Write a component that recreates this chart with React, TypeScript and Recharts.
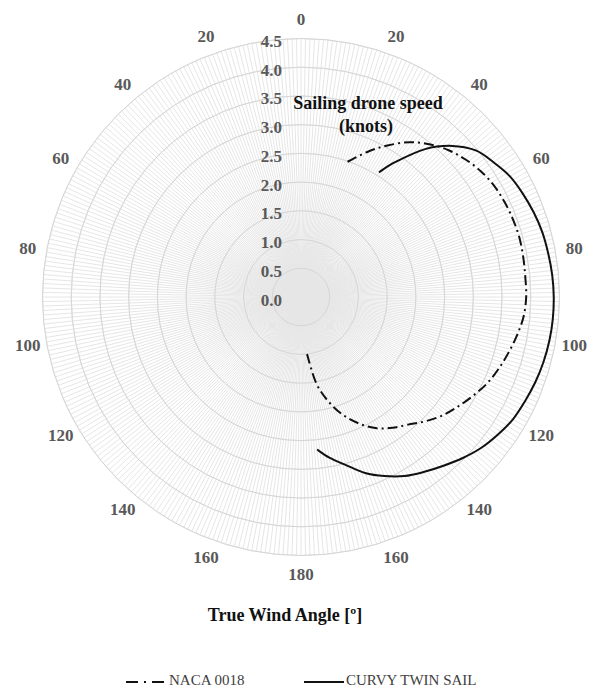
import React from 'react';
import { RadarChart, PolarGrid, PolarAngleAxis, PolarRadiusAxis, Radar, Legend } from 'recharts';

// chart geometry (page pixels)
const WIDTH = 592;
const HEIGHT = 691;
const CX = 301;
const CY = 297;
const OUTER = 258.5;

// one spoke per degree, labelled 0..180 down the right side and back up the left
const SPOKES = 360;
const ANGLE_LABELS = [0, 20, 40, 60, 80, 100, 120, 140, 160, 180];
const SPEED_TICKS = [0, 0.5, 1, 1.5, 2, 2.5, 3, 3.5, 4, 4.5];

// NACA 0018 polar: true wind angle [deg] -> boat speed [knots]
const NACA_ANGLES = [19, 25, 30, 35, 40, 45, 50, 55, 60, 65, 70, 75, 80, 85, 90, 95, 100, 105, 110, 115, 120, 125, 130, 135, 140, 145, 150, 155, 160, 165, 170, 174];
const NACA_SPEED = [2.49, 2.8, 3.05, 3.29, 3.47, 3.62, 3.73, 3.82, 3.88, 3.91, 3.93, 3.94, 3.93, 3.92, 3.92, 3.89, 3.82, 3.74, 3.66, 3.57, 3.45, 3.33, 3.21, 3.06, 2.9, 2.78, 2.64, 2.44, 2.2, 1.9, 1.52, 1.0];

// Curvy twin sail polar
const CURVY_ANGLES = [32, 35, 40, 45, 50, 55, 60, 65, 70, 75, 80, 85, 90, 95, 100, 105, 110, 115, 120, 125, 130, 135, 140, 145, 150, 155, 160, 165, 170, 174];
const CURVY_SPEED = [2.56, 2.87, 3.36, 3.72, 3.97, 4.09, 4.2, 4.26, 4.31, 4.35, 4.37, 4.39, 4.4, 4.4, 4.39, 4.37, 4.34, 4.3, 4.26, 4.18, 4.09, 3.97, 3.84, 3.72, 3.6, 3.44, 3.26, 3.03, 2.84, 2.67];

const data = Array.from({ length: SPOKES }, (_, spoke) => {
  const ni = NACA_ANGLES.indexOf(spoke);
  const ci = CURVY_ANGLES.indexOf(spoke);
  return {
    spoke,
    naca: ni >= 0 ? NACA_SPEED[ni] : undefined,
    curvy: ci >= 0 ? CURVY_SPEED[ci] : undefined,
  };
});

const SERIF = '"Liberation Serif", "Times New Roman", serif';

type Pt = { x: number; y: number; value?: number };

// Catmull-Rom through the points, left open (the polar curves don't close)
const smoothPath = (pts: Pt[]) => {
  if (pts.length < 2) return '';
  let d = `M${pts[0].x},${pts[0].y}`;
  for (let i = 0; i < pts.length - 1; i++) {
    const p0 = pts[i - 1] || pts[i];
    const p1 = pts[i];
    const p2 = pts[i + 1];
    const p3 = pts[i + 2] || p2;
    const c1x = p1.x + (p2.x - p0.x) / 6;
    const c1y = p1.y + (p2.y - p0.y) / 6;
    const c2x = p2.x - (p3.x - p1.x) / 6;
    const c2y = p2.y - (p3.y - p1.y) / 6;
    d += ` C${c1x},${c1y} ${c2x},${c2y} ${p2.x},${p2.y}`;
  }
  return d;
};

const openCurve = (dash?: string) => (props: any) => {
  const pts = (props.points as Pt[]).filter((p) => typeof p.value === 'number' && Number.isFinite(p.x));
  return (
    <path
      d={smoothPath(pts)}
      fill="none"
      stroke="#111"
      strokeWidth={2}
      strokeDasharray={dash}
    />
  );
};

const AngleTick = (props: any) => {
  const spoke = Number(props.payload?.value);
  const twa = spoke <= 180 ? spoke : 360 - spoke;
  if (!ANGLE_LABELS.includes(twa)) return null;
  const a = (spoke * Math.PI) / 180;
  const r = OUTER + 19;
  return (
    <text
      x={CX + r * Math.sin(a)}
      y={CY - r * Math.cos(a)}
      textAnchor="middle"
      dominantBaseline="central"
      fontFamily={SERIF}
      fontWeight="bold"
      fontSize={17}
      fill="#595959"
    >
      {twa}
    </text>
  );
};

const SpeedTick = (props: any) => (
  <text
    x={CX - 19}
    y={props.y + 3}
    textAnchor="end"
    dominantBaseline="central"
    fontFamily={SERIF}
    fontWeight="bold"
    fontSize={17}
    fill="#595959"
  >
    {Number(props.payload.value).toFixed(1)}
  </text>
);

const renderLegend = () => (
  <div style={{ position: 'relative', height: 20, fontFamily: SERIF, fontSize: 15, color: '#404040' }}>
    <svg width={42} height={6} style={{ position: 'absolute', left: 126, top: 7 }}>
      <line x1={0} y1={3} x2={42} y2={3} stroke="#111" strokeWidth={2} strokeDasharray="12 6 2 6" />
    </svg>
    <span style={{ position: 'absolute', left: 169, top: 0, whiteSpace: 'nowrap' }}>NACA 0018</span>
    <svg width={40} height={6} style={{ position: 'absolute', left: 304, top: 7 }}>
      <line x1={0} y1={3} x2={40} y2={3} stroke="#111" strokeWidth={2} />
    </svg>
    <span style={{ position: 'absolute', left: 346, top: 0, whiteSpace: 'nowrap' }}>CURVY TWIN SAIL</span>
  </div>
);

export default function App() {
  return (
    <div style={{ position: 'absolute', left: 0, top: 0, width: WIDTH, height: HEIGHT, background: '#fff' }}>
      <RadarChart
        width={WIDTH}
        height={HEIGHT}
        data={data}
        cx={CX}
        cy={CY}
        outerRadius={OUTER}
        margin={{ top: 0, right: 0, bottom: 0, left: 0 }}
      >
        {/* faint spokes, then slightly darker speed rings over them */}
        <PolarGrid gridType="circle" stroke="#e6e6e6" strokeWidth={1} />
        <PolarGrid gridType="circle" radialLines={false} stroke="#d6d6d6" strokeWidth={1} />
        <PolarAngleAxis dataKey="spoke" tick={AngleTick} tickLine={false} axisLine={false} />
        <PolarRadiusAxis
          angle={90}
          type="number"
          domain={[SPEED_TICKS[0], SPEED_TICKS[SPEED_TICKS.length - 1]]}
          allowDataOverflow
          allowDecimals
          ticks={SPEED_TICKS}
          tickCount={SPEED_TICKS.length}
          tick={SpeedTick}
          tickLine={false}
          axisLine={false}
        />
        <Radar name="NACA 0018" dataKey="naca" isAnimationActive={false} shape={openCurve('10 4 2 4')} />
        <Radar name="CURVY TWIN SAIL" dataKey="curvy" isAnimationActive={false} shape={openCurve()} />
        <text x={368} y={103} textAnchor="middle" dominantBaseline="central" fontFamily={SERIF} fontWeight="bold" fontSize={18} fill="#111">
          Sailing drone speed
        </text>
        <text x={366} y={126} textAnchor="middle" dominantBaseline="central" fontFamily={SERIF} fontWeight="bold" fontSize={18} fill="#111">
          (knots)
        </text>
        <text x={285} y={615} textAnchor="middle" dominantBaseline="central" fontFamily={SERIF} fontWeight="bold" fontSize={18} fill="#111">
          True Wind Angle [º]
        </text>
        <Legend
          content={renderLegend}
          wrapperStyle={{ position: 'absolute', left: 0, top: 672, width: WIDTH, height: 20 }}
        />
      </RadarChart>
    </div>
  );
}
